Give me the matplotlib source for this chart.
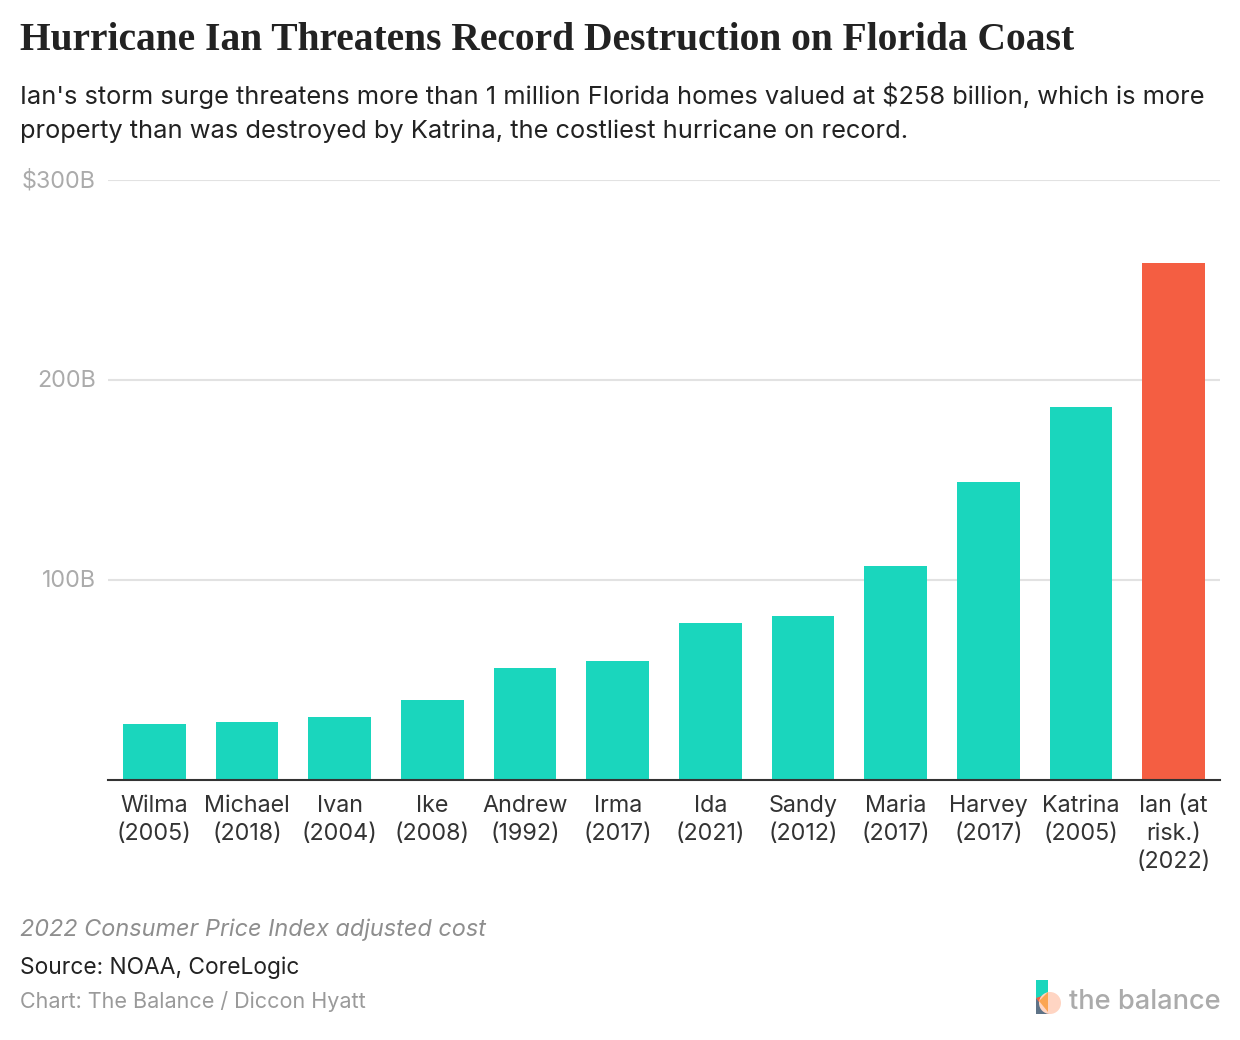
import matplotlib
matplotlib.use('Agg')
import matplotlib.pyplot as plt
from matplotlib.patches import Polygon, Circle, Rectangle

# hurricane cost data
storms = ['Wilma\n(2005)', 'Michael\n(2018)', 'Ivan\n(2004)', 'Ike\n(2008)', 'Andrew\n(1992)', 'Irma\n(2017)',
          'Ida\n(2021)', 'Sandy\n(2012)', 'Maria\n(2017)', 'Harvey\n(2017)', 'Katrina\n(2005)', 'Ian (at\nrisk.)\n(2022)']
costs = [28, 29, 31.5, 40, 56, 59.5, 78.5, 82, 107, 149, 186.5, 258.5]
bar_colors = ['#1AD6BD'] * 11 + ['#F45E42']
y_ticks = [100, 200, 300]
y_labels = ['100B', '200B', '$300B']

W, H = 1240, 1040
plt.rcParams['font.family'] = ['Inter', 'DejaVu Sans']

fig = plt.figure(figsize=(W / 100, H / 100), dpi=100, facecolor='white')

ax = fig.add_axes([108 / W, 1 - 779.6 / H, (1220 - 108) / W, 599.6 / H])
ax.set_xlim(-0.5, 11.5)
ax.set_ylim(0, 300)
ax.set_axisbelow(True)

ax.bar(range(len(storms)), costs, width=0.675, color=bar_colors, linewidth=0, zorder=2)

ax.set_yticks(y_ticks)
ax.set_yticklabels([])
ax.yaxis.grid(True, color='#E2E2E2', linewidth=1.5, zorder=1)
ax.tick_params(axis='both', length=0)
ax.set_xticks(range(len(storms)))
ax.set_xticklabels([])
for s in ['top', 'left', 'right']:
    ax.spines[s].set_visible(False)
ax.spines['bottom'].set_color('#333333')
ax.spines['bottom'].set_linewidth(1.5)

for v, lab in zip(y_ticks, y_labels):
    ax.annotate(lab, (0, v), xycoords=('axes fraction', 'data'), xytext=(-12, -1), textcoords='offset pixels',
                ha='right', va='center', fontsize=16.8, color='#ABABAB')

# x labels written line by line to hold the line spacing of the original
for i, lab in enumerate(storms):
    for j, line in enumerate(lab.split('\n')):
        ax.annotate(line, (i, 0), xycoords=('data', 'axes fraction'), xytext=(0, -26 - j * 28),
                    textcoords='offset pixels', ha='center', va='center', fontsize=16.8, color='#333333')


def txt(x, y, s, **kw):
    fig.text(x / W, 1 - y / H, s, va='center', ha='left', **kw)


txt(20, 41, 'Hurricane Ian Threatens Record Destruction on Florida Coast', fontsize=28.45, fontweight='bold',
    family='Liberation Serif', color='#222222')
txt(20, 96, "Ian's storm surge threatens more than 1 million Florida homes valued at $258 billion, which is more",
    fontsize=18.3, color='#222222')
txt(20, 131, 'property than was destroyed by Katrina, the costliest hurricane on record.', fontsize=18.3, color='#222222')
txt(20, 930, '2022 Consumer Price Index adjusted cost', fontsize=16.9, style='italic', color='#8E8E8E')
txt(20, 968, 'Source: NOAA, CoreLogic', fontsize=16.4, color='#222222')
txt(20, 1002, 'Chart: The Balance / Diccon Hyatt', fontsize=15.5, color='#9A9A9A')
txt(1069, 1002, 'the balance', fontsize=19.6, fontweight='medium', color='#ABABAB')

# logo
logo = fig.add_axes([0, 0, 1, 1], facecolor='none')
logo.set_xlim(0, W)
logo.set_ylim(H, 0)
logo.axis('off')
logo.add_patch(Rectangle((1036, 980), 12, 20, color='#1AD6BD', lw=0))
logo.add_patch(Polygon([(1036, 998), (1036, 1014), (1050, 1014)], color='#5E7387', lw=0))
logo.add_patch(Polygon([(1036, 998), (1048, 994), (1048, 1014)], color='#F55F43', lw=0))
logo.add_patch(Circle((1050, 1003), 11, color='#FFD5C3', lw=0))
logo.add_patch(Polygon([(1039, 1001), (1048, 992), (1048, 1012)], color='#FBA552', lw=0))

fig.savefig('out.png', dpi=100, facecolor='white')
